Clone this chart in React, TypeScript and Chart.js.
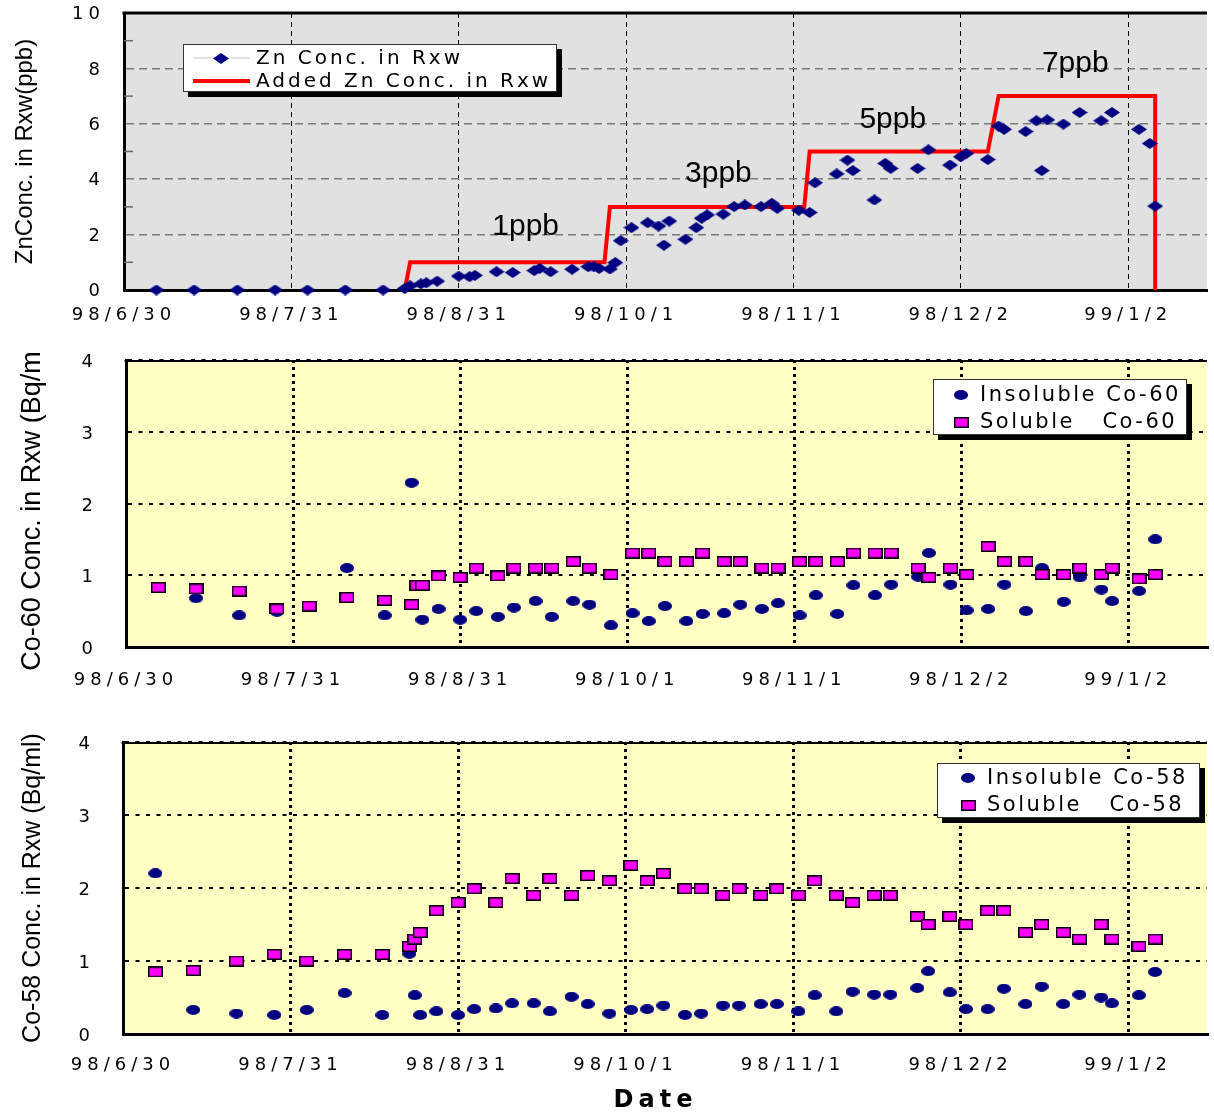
import React, { useEffect, useRef } from 'react';
import { Chart, registerables } from 'chart.js';

Chart.register(...registerables);

// Sampling dates are stored as days after 98/6/30.
const TICK_DAYS = [0, 31, 62, 93, 124, 155, 186];
const TICK_LABELS = ['98/6/30', '98/7/31', '98/8/31', '98/10/1', '98/11/1', '98/12/2', '99/1/2'];
const X_MAX = 200.6;

// Zn concentration in reactor water (ppb)
const ZN_DAYS = [
  6, 13, 21, 28, 34, 41, 48, 52, 53, 55, 56, 58, 62, 64, 65, 69, 72, 76, 77, 79,
  83, 86, 87, 88, 90, 91, 92, 94, 97, 99, 100, 101, 104, 106, 107, 108, 111, 113, 115, 118,
  120, 121, 125, 127, 128, 132, 134, 135, 139, 141, 142, 147, 149, 153, 155, 156, 160, 162, 163, 167,
  169, 170, 171, 174, 177, 181, 183, 188, 190, 191,
];
const ZN_CONC = [
  0, 0, 0, 0, 0, 0, 0, 0.05, 0.15, 0.22, 0.26, 0.32, 0.5, 0.48, 0.53, 0.66, 0.63, 0.7, 0.78, 0.66,
  0.75, 0.84, 0.84, 0.78, 0.76, 0.99, 1.78, 2.25, 2.43, 2.31, 1.62, 2.49, 1.83, 2.25, 2.59, 2.71, 2.74, 3.01, 3.07, 3.01,
  3.13, 2.95, 2.88, 2.8, 3.87, 4.19, 4.69, 4.31, 3.25, 4.57, 4.39, 4.39, 5.06, 4.51, 4.81, 4.93, 4.71, 5.92, 5.8, 5.72,
  6.11, 4.31, 6.14, 5.99, 6.41, 6.11, 6.41, 5.8, 5.29, 3.03,
];

// Zn injection program (step profile)
const ADDED_ZN_DAYS = [52, 53, 89, 90, 126, 127, 160, 162, 191, 191];
const ADDED_ZN_CONC = [0, 1, 1, 3, 3, 5, 5, 7, 7, 0];

const STEP_NOTES = ['1ppb', '3ppb', '5ppb', '7ppb'];
const STEP_NOTE_DAYS = [74.4, 110.1, 142.4, 176.2];
const STEP_NOTE_LEVELS = [1.99, 3.91, 5.84, 7.87];

// Cobalt sampling days
const CO_DAYS = [
  6, 13, 21, 28, 34, 41, 48, 53, 54, 55, 58, 62, 65, 69, 72, 76, 79, 83, 86, 90,
  94, 97, 100, 104, 107, 111, 114, 118, 121, 125, 128, 132, 135, 139, 142, 147, 149, 153, 156, 160,
  163, 167, 170, 174, 177, 181, 183, 188, 191,
];
const CO60_INSOL_DAYS = [
  13, 21, 28, 41, 48, 53, 55, 58, 62, 65, 69, 72, 76, 79, 83, 86, 90, 94, 97, 100,
  104, 107, 111, 114, 118, 121, 125, 128, 132, 135, 139, 142, 147, 149, 153, 156, 160, 163, 167, 170,
  174, 177, 181, 183, 188, 191,
];

// Co-60 (Bq/ml)
const CO60_INSOLUBLE = [
  0.68, 0.44, 0.49, 1.1, 0.44, 2.29, 0.38, 0.53, 0.38, 0.5, 0.42, 0.55, 0.64, 0.42, 0.64, 0.59, 0.3, 0.47, 0.36, 0.57,
  0.36, 0.46, 0.47, 0.59, 0.53, 0.61, 0.44, 0.72, 0.46, 0.86, 0.72, 0.87, 0.98, 1.31, 0.87, 0.51, 0.53, 0.87, 0.5, 1.1,
  0.63, 0.97, 0.8, 0.64, 0.78, 1.5,
];
const CO60_SOLUBLE = [
  0.83, 0.81, 0.78, 0.53, 0.57, 0.69, 0.65, 0.59, 0.86, 0.86, 0.99, 0.97, 1.1, 0.99, 1.1, 1.1, 1.1, 1.19, 1.1, 1.01,
  1.31, 1.31, 1.19, 1.19, 1.31, 1.19, 1.19, 1.1, 1.1, 1.19, 1.19, 1.19, 1.31, 1.31, 1.31, 1.1, 0.97, 1.1, 1.01, 1.4,
  1.19, 1.19, 1.01, 1.01, 1.1, 1.01, 1.1, 0.95, 1.01,
];

// Co-58 (Bq/ml)
const CO58_INSOLUBLE = [
  2.2, 0.33, 0.28, 0.26, 0.33, 0.56, 0.26, 1.1, 0.53, 0.26, 0.31, 0.26, 0.34, 0.35, 0.42, 0.42, 0.31, 0.51, 0.41, 0.28,
  0.33, 0.34, 0.39, 0.26, 0.28, 0.39, 0.39, 0.41, 0.41, 0.31, 0.53, 0.31, 0.58, 0.54, 0.54, 0.63, 0.86, 0.57, 0.34, 0.34,
  0.62, 0.41, 0.65, 0.41, 0.54, 0.5, 0.42, 0.53, 0.85,
];
const CO58_SOLUBLE = [
  0.85, 0.87, 1.0, 1.09, 1.0, 1.09, 1.09, 1.2, 1.3, 1.39, 1.69, 1.8, 1.99, 1.8, 2.13, 1.9, 2.13, 1.9, 2.17, 2.1,
  2.31, 2.1, 2.2, 1.99, 1.99, 1.9, 1.99, 1.9, 1.99, 1.9, 2.1, 1.9, 1.8, 1.9, 1.9, 1.61, 1.5, 1.61, 1.5, 1.69,
  1.69, 1.39, 1.5, 1.39, 1.3, 1.5, 1.3, 1.2, 1.3,
];

const NAVY = '#000080';
const MAGENTA = '#ff00ff';
const CLEAR = 'rgba(0,0,0,0)';
const TICK_FONT = { family: '"DejaVu Sans", sans-serif', size: 18 };
const TITLE_FAMILY = '"Liberation Sans", Arial, sans-serif';

const pts = (xs: number[], ys: number[]) => xs.map((x, i) => ({ x, y: ys[i] }));

function makeMarker(shape: string, w: number, h: number, fill: string, stroke?: string) {
  const c = document.createElement('canvas');
  c.width = w;
  c.height = h;
  const g = c.getContext('2d')!;
  g.fillStyle = fill;
  g.beginPath();
  if (shape === 'diamond') {
    g.moveTo(0, h / 2);
    g.lineTo(w / 2, 0);
    g.lineTo(w, h / 2);
    g.lineTo(w / 2, h);
    g.closePath();
    g.fill();
  } else if (shape === 'ellipse') {
    g.ellipse(w / 2, h / 2, w / 2, h / 2, 0, 0, Math.PI * 2);
    g.fill();
  } else {
    g.fillRect(0, 0, w, h);
    if (stroke) {
      g.strokeStyle = stroke;
      g.lineWidth = 1.5;
      g.strokeRect(0.75, 0.75, w - 1.5, h - 1.5);
    }
  }
  return c;
}

function drawLegend(chart: any, lg: any) {
  const { ctx, chartArea: a } = chart;
  const x0 = a.left + lg.dx;
  const y0 = a.top + lg.dy;
  ctx.save();
  ctx.fillStyle = '#000';
  ctx.fillRect(x0 + lg.shadow, y0 + lg.shadow, lg.w, lg.h);
  ctx.fillStyle = '#fff';
  ctx.fillRect(x0, y0, lg.w, lg.h);
  ctx.strokeStyle = '#333';
  ctx.lineWidth = 1;
  ctx.strokeRect(x0 + 0.5, y0 + 0.5, lg.w - 1, lg.h - 1);
  ctx.font = lg.font;
  ctx.letterSpacing = lg.spacing;
  ctx.textAlign = 'left';
  ctx.textBaseline = 'middle';
  lg.items.forEach((item: any, i: number) => {
    const ds = chart.data.datasets[item.ds];
    const cy = y0 + lg.rows[i];
    if (item.line) {
      ctx.strokeStyle = item.line;
      ctx.lineWidth = item.lineWidth;
      ctx.beginPath();
      ctx.moveTo(x0 + lg.lineFrom, cy);
      ctx.lineTo(x0 + lg.lineEnd, cy);
      ctx.stroke();
    }
    if (item.marker) {
      const img = ds.pointStyle as HTMLCanvasElement;
      ctx.drawImage(img, Math.round(x0 + lg.markX - img.width / 2), Math.round(cy - img.height / 2));
    }
    ctx.fillStyle = '#000';
    ctx.fillText(ds.label, x0 + lg.textX, cy + 1);
  });
  ctx.restore();
}

// Plot background, frame, minor ticks, legend, step notes and the x-axis title
const panelDecor = {
  id: 'panelDecor',
  beforeDraw(chart: any, _args: any, o: any) {
    const { ctx, chartArea: a } = chart;
    ctx.save();
    ctx.fillStyle = o.background;
    ctx.fillRect(a.left, a.top, a.right - a.left, a.bottom - a.top);
    ctx.strokeStyle = '#000';
    ctx.lineWidth = o.topBorder;
    ctx.beginPath();
    ctx.moveTo(a.left - 1.5, a.top + o.topBorderShift);
    ctx.lineTo(a.right, a.top + o.topBorderShift);
    ctx.stroke();
    ctx.restore();
    ctx.letterSpacing = '0px';
  },
  beforeDatasetsDraw(chart: any, _args: any, o: any) {
    const { ctx, chartArea: a, scales } = chart;
    if (o.minorTicks) {
      ctx.save();
      ctx.strokeStyle = o.minorTickColor;
      ctx.lineWidth = 1.5;
      o.minorTicks.forEach((v: number) => {
        const y = scales.y.getPixelForValue(v);
        ctx.beginPath();
        ctx.moveTo(a.left, y);
        ctx.lineTo(a.left + 9, y);
        ctx.stroke();
      });
      ctx.restore();
    }
    ctx.letterSpacing = o.tickSpacing;
  },
  afterDraw(chart: any, _args: any, o: any) {
    const { ctx, chartArea: a, scales } = chart;
    ctx.save();
    ctx.letterSpacing = '0px';
    if (o.notes) {
      ctx.font = o.noteFont;
      ctx.fillStyle = '#000';
      ctx.textAlign = 'center';
      ctx.textBaseline = 'alphabetic';
      o.notes.forEach((n: any) => {
        ctx.fillText(n.text, scales.x.getPixelForValue(n.day), scales.y.getPixelForValue(n.level));
      });
    }
    if (o.legend) drawLegend(chart, o.legend);
    if (o.xTitle) {
      ctx.font = o.xTitle.font;
      ctx.letterSpacing = o.xTitle.spacing;
      ctx.fillStyle = '#000';
      ctx.textAlign = 'center';
      ctx.textBaseline = 'middle';
      ctx.fillText(o.xTitle.text, a.left + o.xTitle.dx, a.bottom + o.xTitle.dy);
    }
    ctx.restore();
    ctx.letterSpacing = '0px';
  },
};

function buildConfig(spec: any, datasets: any[]) {
  return {
    type: 'scatter',
    data: { datasets },
    plugins: [panelDecor],
    options: {
      animation: false,
      responsive: false,
      maintainAspectRatio: false,
      events: [],
      layout: { padding: { top: spec.top, left: 0, right: 0, bottom: 0 } },
      plugins: {
        legend: { display: false },
        tooltip: { enabled: false },
        panelDecor: spec.decor,
      },
      scales: {
        x: {
          type: 'linear',
          position: 'bottom',
          min: 0,
          max: X_MAX,
          afterBuildTicks: (s: any) => {
            s.ticks = TICK_DAYS.map((value) => ({ value }));
          },
          afterFit: (s: any) => {
            s.height = spec.canvasHeight - spec.bottom;
            s.paddingLeft = 0;
            s.paddingRight = 0;
          },
          ticks: {
            autoSkip: false,
            maxRotation: 0,
            minRotation: 0,
            padding: spec.xTickPad,
            color: '#000',
            font: TICK_FONT,
            z: 1,
            callback: (v: number) => {
              const i = TICK_DAYS.indexOf(v);
              return i >= 0 ? TICK_LABELS[i] : '';
            },
          },
          grid: {
            drawTicks: false,
            lineWidth: spec.vGrid.width,
            color: (c: any) => (!c.tick || c.tick.value === 0 ? CLEAR : spec.vGrid.color),
          },
          border: { display: true, color: '#000', width: 3, dash: spec.vGrid.dash },
        },
        y: {
          type: 'linear',
          position: 'left',
          min: 0,
          max: spec.yMax,
          afterFit: (s: any) => {
            s.width = spec.left;
            s.paddingTop = 0;
            s.paddingBottom = 0;
          },
          ticks: {
            stepSize: spec.yStep,
            padding: spec.yTickPad,
            labelOffset: spec.yLabelOffset,
            color: '#000',
            font: TICK_FONT,
            z: 1,
          },
          grid: {
            drawTicks: false,
            lineWidth: spec.hGrid.width,
            color: (c: any) => {
              if (!c.tick || c.tick.value === 0) return CLEAR;
              if (spec.hideTopGrid && c.tick.value === spec.yMax) return CLEAR;
              return spec.hGrid.color;
            },
          },
          border: { display: true, color: '#000', width: 3, dash: spec.hGrid.dash },
          title: {
            display: true,
            text: spec.yTitle,
            color: '#000',
            font: { family: TITLE_FAMILY, size: spec.titleSize },
            padding: { top: spec.titlePad, bottom: 0 },
          },
        },
      },
    },
  };
}

const ZN_PANEL = {
  canvasHeight: 330,
  left: 124,
  top: 13,
  bottom: 290,
  yMax: 10,
  yStep: 2,
  yTitle: 'ZnConc. in Rxw(ppb)',
  titleSize: 24,
  titlePad: 11,
  yTickPad: 19,
  yLabelOffset: 1.5,
  xTickPad: 15,
  hideTopGrid: true,
  hGrid: { color: '#7a7a7a', width: 1.5, dash: [8, 5] },
  vGrid: { color: '#000', width: 1, dash: [5, 4] },
  decor: {
    background: '#e1e1e1',
    topBorder: 3,
    topBorderShift: 0,
    tickSpacing: '5px',
    minorTicks: [1, 3, 5, 7, 9],
    minorTickColor: '#6a6a6a',
    notes: STEP_NOTES.map((text, i) => ({ text, day: STEP_NOTE_DAYS[i], level: STEP_NOTE_LEVELS[i] })),
    noteFont: '30px "Liberation Sans", Arial, sans-serif',
    legend: {
      dx: 59, dy: 31, w: 374, h: 48, shadow: 5, rows: [14, 37],
      lineFrom: 10, lineEnd: 67, markX: 38, textX: 73,
      font: '20px "DejaVu Sans", sans-serif', spacing: '3px',
      items: [
        { ds: 0, line: '#c8c8c8', lineWidth: 1, marker: true },
        { ds: 1, line: '#ff0000', lineWidth: 4, marker: false },
      ],
    },
  },
};

const CO60_PANEL = {
  canvasHeight: 367,
  left: 126,
  top: 4,
  bottom: 294,
  yMax: 4,
  yStep: 1,
  yTitle: 'Co-60 Conc. in Rxw (Bq/ml)',
  titleSize: 27,
  titlePad: 16,
  yTickPad: 28,
  yLabelOffset: 2.5,
  xTickPad: 23,
  hideTopGrid: false,
  hGrid: { color: '#000', width: 2, dash: [4, 6.5] },
  vGrid: { color: '#000', width: 3, dash: [3, 4] },
  decor: {
    background: '#ffffc4',
    topBorder: 2,
    topBorderShift: 1,
    tickSpacing: '5px',
    legend: {
      dx: 807, dy: 19, w: 254, h: 56, shadow: 5, rows: [16, 43],
      markX: 28, textX: 47,
      font: '21px "DejaVu Sans", sans-serif', spacing: '2.5px',
      items: [
        { ds: 0, marker: true },
        { ds: 1, marker: true },
      ],
    },
  },
};

const CO58_PANEL = {
  canvasHeight: 392,
  left: 123,
  top: 22,
  bottom: 314,
  yMax: 4,
  yStep: 1,
  yTitle: 'Co-58 Conc. in Rxw (Bq/ml)',
  titleSize: 25,
  titlePad: 18,
  yTickPad: 28,
  yLabelOffset: 2.5,
  xTickPad: 21,
  hideTopGrid: false,
  hGrid: { color: '#000', width: 2, dash: [4, 6.5] },
  vGrid: { color: '#000', width: 3, dash: [3, 4] },
  decor: {
    background: '#ffffc4',
    topBorder: 2,
    topBorderShift: 1,
    tickSpacing: '5px',
    legend: {
      dx: 814, dy: 21, w: 263, h: 55, shadow: 5, rows: [15, 42],
      markX: 31, textX: 50,
      font: '21px "DejaVu Sans", sans-serif', spacing: '2.5px',
      items: [
        { ds: 0, marker: true },
        { ds: 1, marker: true },
      ],
    },
    xTitle: { text: 'Date', dx: 532.5, dy: 67, font: 'bold 24px "DejaVu Sans", sans-serif', spacing: '5px' },
  },
};

export default function App() {
  const znRef = useRef<HTMLCanvasElement | null>(null);
  const co60Ref = useRef<HTMLCanvasElement | null>(null);
  const co58Ref = useRef<HTMLCanvasElement | null>(null);

  useEffect(() => {
    const diamond = makeMarker('diamond', 16, 11, NAVY);
    const dot = makeMarker('ellipse', 14, 10, NAVY);
    const square = makeMarker('rect', 15, 11, MAGENTA, '#000');

    const pointSet = (label: string, data: any[], style: HTMLCanvasElement, order: number) => ({
      label,
      data,
      pointStyle: style,
      pointRadius: 6,
      pointHoverRadius: 6,
      clip: false,
      order,
    });

    const charts = [
      new Chart(
        znRef.current!,
        buildConfig(ZN_PANEL, [
          pointSet('Zn Conc. in Rxw', pts(ZN_DAYS, ZN_CONC), diamond, 1),
          {
            label: 'Added Zn Conc. in Rxw',
            data: pts(ADDED_ZN_DAYS, ADDED_ZN_CONC),
            showLine: true,
            borderColor: '#ff0000',
            borderWidth: 4,
            borderJoinStyle: 'miter',
            pointRadius: 0,
            pointHoverRadius: 0,
            clip: false,
            order: 2,
          },
        ]) as any
      ),
      new Chart(
        co60Ref.current!,
        buildConfig(CO60_PANEL, [
          pointSet('Insoluble Co-60', pts(CO60_INSOL_DAYS, CO60_INSOLUBLE), dot, 2),
          pointSet('Soluble   Co-60', pts(CO_DAYS, CO60_SOLUBLE), square, 1),
        ]) as any
      ),
      new Chart(
        co58Ref.current!,
        buildConfig(CO58_PANEL, [
          pointSet('Insoluble Co-58', pts(CO_DAYS, CO58_INSOLUBLE), dot, 2),
          pointSet('Soluble   Co-58', pts(CO_DAYS, CO58_SOLUBLE), square, 1),
        ]) as any
      ),
    ];
    return () => charts.forEach((c) => c.destroy());
  }, []);

  return (
    <div
      style={{
        position: 'absolute',
        left: 0,
        top: 0,
        width: 1214,
        height: 1112,
        overflow: 'hidden',
        background: '#fff',
      }}
    >
      <canvas ref={znRef} width={1214} height={330} style={{ position: 'absolute', left: 0, top: 0 }} />
      <canvas ref={co60Ref} width={1214} height={367} style={{ position: 'absolute', left: 0, top: 353 }} />
      <canvas ref={co58Ref} width={1214} height={392} style={{ position: 'absolute', left: 0, top: 720 }} />
    </div>
  );
}
